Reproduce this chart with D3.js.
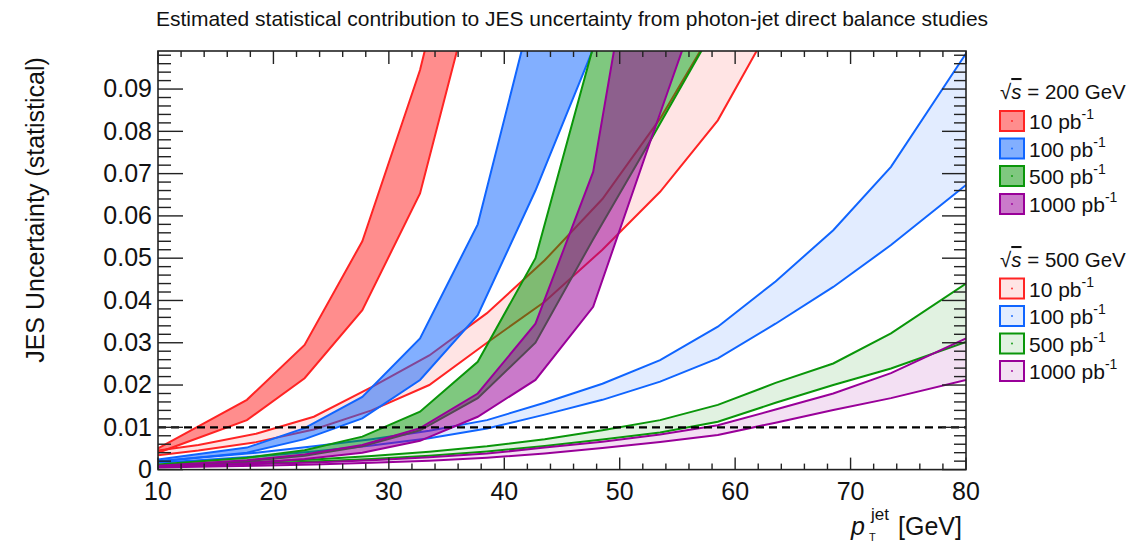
<!DOCTYPE html>
<html><head><meta charset="utf-8">
<script src="https://cdn.jsdelivr.net/npm/d3@7"></script>
<style>
body{margin:0;background:#fff;}
svg{display:block;font-family:"Liberation Sans",Arial,Helvetica,sans-serif;}
</style></head>
<body><svg id="c" width="1129" height="546"></svg>
<script>
// ---------------- data ----------------
const titleText = "Estimated statistical contribution to JES uncertainty from photon-jet direct balance studies";
const yTitle = "JES Uncertainty (statistical)";
const xTicks = [10, 20, 30, 40, 50, 60, 70, 80];
const yTicks = [0, 0.01, 0.02, 0.03, 0.04, 0.05, 0.06, 0.07, 0.08, 0.09];
const yTickLabels = ["0", "0.01", "0.02", "0.03", "0.04", "0.05", "0.06", "0.07", "0.08", "0.09"];
const lumiLabels = ["10", "100", "500", "1000"];
const energies = ["200", "500"];
const refLine = 0.01;

// pT nodes (GeV)
const pt200 = [10, 17.7, 22.7, 27.7, 32.7, 37.7, 42.7, 47.7, 52.7, 57.7];
const pt500 = [10, 13.5, 18.5, 23.5, 28.5, 33.5, 38.5, 43.5, 48.5, 53.5, 58.5, 63.5, 68.5, 73.5, 80];

// sqrt(s) = 200 GeV bands (upper / lower edge)
const red200Up = [0.0050, 0.0165, 0.0295, 0.054, 0.0945, 0.15];
const red200Lo = [0.0040, 0.0117, 0.0216, 0.0377, 0.0653, 0.118];
const blue200Up = [0.0024, 0.0052, 0.0098, 0.0172, 0.031, 0.058, 0.112, 0.165, 0.22];
const blue200Lo = [0.0019, 0.0040, 0.0072, 0.0121, 0.0212, 0.0365, 0.066, 0.0995, 0.133];
const green200Up = [0.0012, 0.0028, 0.0046, 0.0078, 0.0137, 0.0255, 0.050, 0.100, 0.15, 0.2];
const green200Lo = [0.0009, 0.0020, 0.0033, 0.0055, 0.0093, 0.0169, 0.030, 0.0545, 0.078, 0.102];
const purple200Up = [0.0009, 0.0022, 0.0036, 0.0058, 0.0098, 0.018, 0.0345, 0.0704, 0.15, 0.23];
const purple200Lo = [0.0006, 0.0015, 0.0025, 0.0040, 0.0068, 0.0125, 0.0212, 0.0385, 0.078, 0.117];

// sqrt(s) = 500 GeV bands (upper / lower edge)
const red500Up = [0.0045, 0.0058, 0.0085, 0.0125, 0.0195, 0.027, 0.037, 0.0495, 0.064, 0.083, 0.106, 0.135];
const red500Lo = [0.0034, 0.0045, 0.0065, 0.0095, 0.014, 0.020, 0.030, 0.0397, 0.052, 0.0657, 0.0826, 0.107];
const blue500Up = [0.0020, 0.0028, 0.0040, 0.0055, 0.0072, 0.0092, 0.0117, 0.0158, 0.0203, 0.0259, 0.0338, 0.0445, 0.0566, 0.0716, 0.0984];
const blue500Lo = [0.0016, 0.0022, 0.0031, 0.0043, 0.0057, 0.0074, 0.0097, 0.0130, 0.0165, 0.0208, 0.0263, 0.0345, 0.0432, 0.0531, 0.0673];
const green500Up = [0.0010, 0.0013, 0.0018, 0.0024, 0.0032, 0.0042, 0.0055, 0.0072, 0.0093, 0.0117, 0.0153, 0.0205, 0.0251, 0.0322, 0.044];
const green500Lo = [0.0008, 0.0010, 0.0014, 0.0019, 0.0025, 0.0033, 0.0043, 0.0056, 0.0071, 0.0088, 0.0113, 0.0158, 0.0200, 0.0239, 0.0302];
const purple500Up = [0.0007, 0.0009, 0.0013, 0.0017, 0.0022, 0.0029, 0.0038, 0.0052, 0.0066, 0.0083, 0.0105, 0.0142, 0.0180, 0.0228, 0.0310];
const purple500Lo = [0.0005, 0.0007, 0.0009, 0.0012, 0.0016, 0.0021, 0.0028, 0.0038, 0.0051, 0.0065, 0.0082, 0.0111, 0.0141, 0.0169, 0.0212];

const colors = ["#ff2424", "#1065ff", "#0a960a", "#990099"];

// ---------------- layout ----------------
const svg = d3.select("#c");
const L = 158, R = 966, T = 51, B = 469.6;
const x = d3.scaleLinear().domain([10, 80]).range([L, R]);
const y = d3.scaleLinear().domain([0, 0.099]).range([B, T]);

svg.append("defs").append("clipPath").attr("id", "clip")
  .append("rect").attr("x", L).attr("y", T).attr("width", R - L).attr("height", B - T);

const plot = svg.append("g").attr("clip-path", "url(#clip)");

function band(xs, up, lo, color, fillOpacity) {
  const n = Math.min(up.length, lo.length);
  const pts = d3.range(n).map(i => ({x: xs[i], u: up[i], l: lo[i]}));
  const area = d3.area().x(d => x(d.x)).y0(d => y(d.l)).y1(d => y(d.u));
  const g = plot.append("g");
  g.append("path").attr("d", area(pts)).attr("fill", color).attr("fill-opacity", fillOpacity).attr("stroke", "none");
  const line = d3.line().x((d, i) => x(xs[i])).y(d => y(d));
  g.append("path").attr("d", line(up)).attr("fill", "none").attr("stroke", color).attr("stroke-width", 2);
  g.append("path").attr("d", line(lo)).attr("fill", "none").attr("stroke", color).attr("stroke-width", 2);
}

// 500 GeV first (light), then 200 GeV (dense)
const bands500 = [[red500Up, red500Lo], [blue500Up, blue500Lo], [green500Up, green500Lo], [purple500Up, purple500Lo]];
const bands200 = [[red200Up, red200Lo], [blue200Up, blue200Lo], [green200Up, green200Lo], [purple200Up, purple200Lo]];
bands500.forEach((b, i) => band(pt500, b[0], b[1], colors[i], 0.12));
bands200.forEach((b, i) => band(pt200, b[0], b[1], colors[i], 0.52));

// dashed reference line
svg.append("line").attr("x1", x(10)).attr("x2", x(80)).attr("y1", y(refLine)).attr("y2", y(refLine))
  .attr("stroke", "#000").attr("stroke-width", 2.2).attr("stroke-dasharray", "8,5");

// frame
svg.append("rect").attr("x", L).attr("y", T).attr("width", R - L).attr("height", B - T)
  .attr("fill", "none").attr("stroke", "#222").attr("stroke-width", 1.6);

// ticks
const axG = svg.append("g").attr("stroke", "#222").attr("stroke-width", 1.4);
const xMinor = d3.range(10, 80.001, 2);
xMinor.forEach(v => {
  const major = Math.abs(v % 10) < 1e-6;
  const len = major ? 12 : 6;
  axG.append("line").attr("x1", x(v)).attr("x2", x(v)).attr("y1", B).attr("y2", B - len);
  axG.append("line").attr("x1", x(v)).attr("x2", x(v)).attr("y1", T).attr("y2", T + len + (major ? 1 : 0));
});
const yMinor = d3.range(0, 0.0991, 0.002);
yMinor.forEach((v, i) => {
  const major = i % 5 === 0;
  axG.append("line").attr("x1", L).attr("x2", L + (major ? 25 : 13)).attr("y1", y(v)).attr("y2", y(v));
  axG.append("line").attr("x1", R).attr("x2", R - (major ? 24 : 12)).attr("y1", y(v)).attr("y2", y(v));
});

// tick labels
const lab = svg.append("g").attr("fill", "#111").attr("font-size", 25);
yTicks.forEach((v, i) => {
  lab.append("text").attr("x", 152).attr("y", y(v)).attr("dy", "0.33em").attr("text-anchor", "end").text(yTickLabels[i]);
});
xTicks.forEach(v => {
  lab.append("text").attr("x", x(v)).attr("y", 500).attr("text-anchor", "middle").text(v);
});

// titles
svg.append("text").attr("x", 572).attr("y", 26).attr("text-anchor", "middle").attr("font-size", 21).attr("fill", "#111").text(titleText);
svg.append("text").attr("transform", "translate(44,210) rotate(-90)").attr("text-anchor", "middle")
  .attr("font-size", 25).attr("fill", "#111").text(yTitle);

svg.append("text").attr("x", 851).attr("y", 535).attr("font-size", 25).attr("font-style", "italic").attr("fill", "#111").text("p");
svg.append("text").attr("x", 871).attr("y", 520).attr("font-size", 17).attr("fill", "#111").text("jet");
svg.append("text").attr("x", 869).attr("y", 541).attr("font-size", 11).attr("fill", "#111").text("T");
svg.append("text").attr("x", 898).attr("y", 535).attr("font-size", 25).attr("fill", "#111").text("[GeV]");

// legend
const leg = svg.append("g");
const groupTop = [99, 267];
const rowY = [[121, 148.5, 176, 204], [288.5, 316, 343.5, 371]];
energies.forEach((e, g) => {
  const hdr = leg.append("text").attr("x", 1000).attr("y", groupTop[g]).attr("font-size", 20.5).attr("fill", "#111");
  hdr.append("tspan").text("√");
  hdr.append("tspan").attr("font-style", "italic").attr("text-decoration", "overline").text("s");
  hdr.append("tspan").text(" = " + e + " GeV");
  lumiLabels.forEach((l, i) => {
    const cy = rowY[g][i];
    leg.append("rect").attr("x", 1000).attr("y", cy - 10).attr("width", 24).attr("height", 20)
      .attr("fill", colors[i]).attr("fill-opacity", g === 0 ? 0.52 : 0.12)
      .attr("stroke", colors[i]).attr("stroke-width", 2);
    leg.append("circle").attr("cx", 1012).attr("cy", cy).attr("r", 0.9).attr("fill", colors[i]);
    const t = leg.append("text").attr("x", 1029).attr("y", cy + 8).attr("font-size", 21).attr("fill", "#111");
    t.append("tspan").text(l + " pb");
    t.append("tspan").attr("font-size", 14).attr("dy", -10).text("-1");
  });
});
</script></body></html>
